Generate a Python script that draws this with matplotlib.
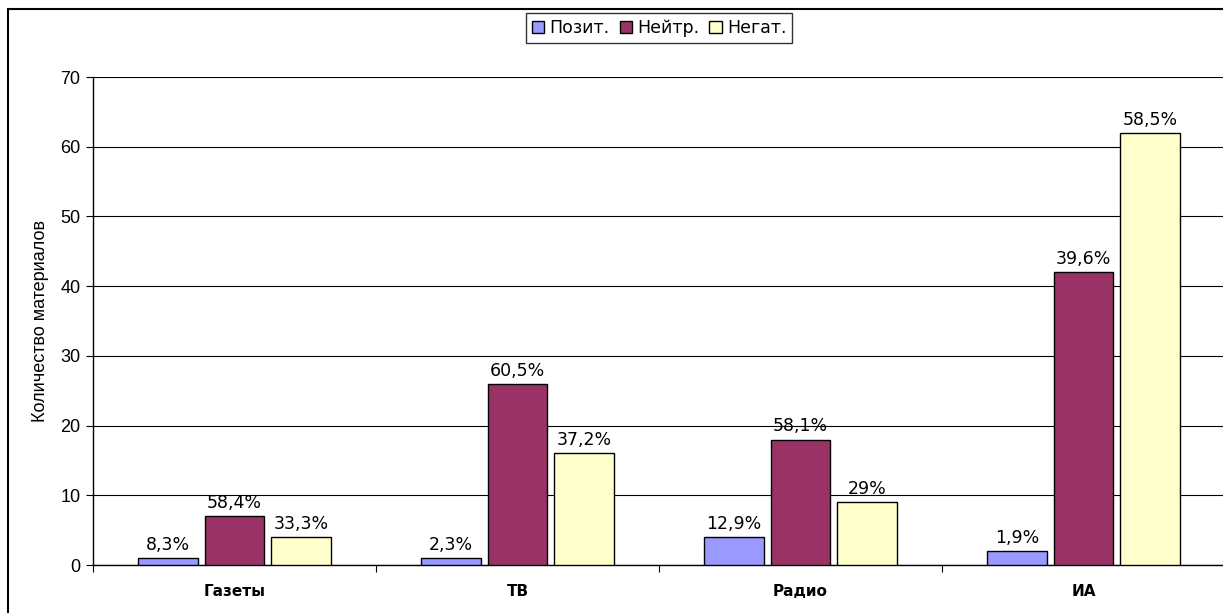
#!/usr/bin/env python3
import matplotlib.pyplot as plt
from matplotlib.patches import Rectangle
import numpy as np

categories = ["Газеты", "ТВ", "Радио", "ИА"]
series_names = ["Позит.", "Нейтр.", "Негат."]
pos_counts = [1, 1, 4, 2]
neu_counts = [7, 26, 18, 42]
neg_counts = [4, 16, 9, 62]
pos_labels = ["8,3%", "2,3%", "12,9%", "1,9%"]
neu_labels = ["58,4%", "60,5%", "58,1%", "39,6%"]
neg_labels = ["33,3%", "37,2%", "29%", "58,5%"]
y_ticks = [0, 10, 20, 30, 40, 50, 60, 70]


def main():
    W, H = 1223, 613
    fig = plt.figure(figsize=(W / 100, H / 100), dpi=100)
    ax = fig.add_axes([93 / W, (H - 565) / H, (1225 - 93) / W, (565 - 77) / H])

    colors = ["#9999FF", "#993366", "#FFFFCC"]
    series = [pos_counts, neu_counts, neg_counts]
    labels = [pos_labels, neu_labels, neg_labels]
    x = np.arange(len(categories))
    step = 0.235
    width = 0.212

    for i, (vals, labs, col, name) in enumerate(zip(series, labels, colors, series_names)):
        bars = ax.bar(x + (i - 1) * step, vals, width, color=col, edgecolor="black",
                      linewidth=1, label=name, zorder=3)
        for b, lab in zip(bars, labs):
            ax.annotate(lab, (b.get_x() + b.get_width() / 2, b.get_height()),
                        xytext=(0, 3), textcoords="offset points", ha="center", va="bottom",
                        fontsize=12.5, family="DejaVu Sans", zorder=4)

    ax.set_xlim(-0.5, len(categories) - 0.5)
    ax.set_ylim(0, 70)
    ax.set_yticks(y_ticks)
    ax.set_yticklabels([str(t) for t in y_ticks], family="Liberation Sans", fontsize=13)
    ax.yaxis.grid(True, color="black", linewidth=0.8, zorder=0)
    ax.tick_params(axis="y", length=5, width=0.8, pad=4, direction="out")

    ax.set_xticks(x)
    ax.set_xticklabels(categories, fontweight="bold", fontsize=11, family="DejaVu Sans")
    ax.tick_params(axis="x", which="major", length=0, pad=14)
    ax.set_xticks(np.arange(len(categories) + 1) - 0.5, minor=True)
    ax.tick_params(axis="x", which="minor", length=5, width=0.8, direction="out")

    for s in ["top", "right"]:
        ax.spines[s].set_visible(False)
    for s in ["left", "bottom"]:
        ax.spines[s].set_linewidth(1)

    ax.set_ylabel("Количество материалов", family="Liberation Sans", fontsize=13, labelpad=8)

    leg = ax.legend(loc="center", bbox_to_anchor=(0.5, 1 + (77 - 28) / (565 - 77)), ncol=3,
                    frameon=True, fancybox=False, edgecolor="black",
                    prop={"family": "DejaVu Sans", "size": 12.5},
                    handlelength=0.7, handleheight=0.7, handletextpad=0.3,
                    columnspacing=0.6, borderpad=0.35, borderaxespad=0)
    leg.get_frame().set_linewidth(1)

    # outer chart frame
    fig.patches.append(Rectangle((8 / W, -0.1), 1.2, 1.1 - 9 / H, transform=fig.transFigure,
                                 fill=False, edgecolor="black", linewidth=1.5))

    fig.savefig("out.png", dpi=100)


if __name__ == "__main__":
    main()
